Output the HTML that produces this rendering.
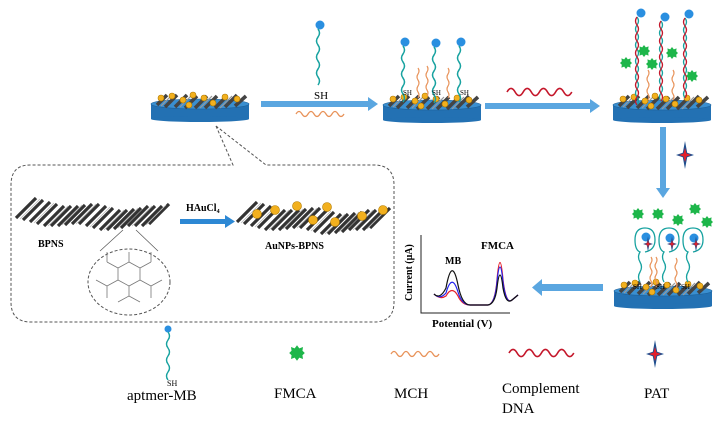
<!DOCTYPE html>
<html><head><meta charset="utf-8"><style>
html,body{margin:0;padding:0;background:#fff;}
svg{display:block;font-family:"Liberation Serif",serif;}
</style></head><body>
<svg width="715" height="426" viewBox="0 0 715 426" xmlns="http://www.w3.org/2000/svg">
<defs>
<g id="surf">
  <g stroke="#444" stroke-width="3.6">
    <line x1="4" y1="6" x2="14" y2="-4"/><line x1="12" y1="8" x2="24" y2="-4"/><line x1="22" y1="8" x2="34" y2="-4"/>
    <line x1="32" y1="9" x2="44" y2="-3"/><line x1="42" y1="9" x2="54" y2="-3"/><line x1="52" y1="9" x2="64" y2="-3"/>
    <line x1="62" y1="9" x2="74" y2="-3"/><line x1="72" y1="8" x2="84" y2="-4"/><line x1="82" y1="7" x2="93" y2="-3"/>
  </g>
  <g stroke="#999" stroke-width="1.2">
    <line x1="8" y1="7" x2="18" y2="-3"/><line x1="27" y1="8" x2="39" y2="-4"/><line x1="47" y1="9" x2="59" y2="-3"/><line x1="67" y1="9" x2="79" y2="-3"/>
  </g>
  <g fill="#f2b01e" stroke="#b07a00" stroke-width="0.6">
    <circle cx="8" cy="-1" r="3"/><circle cx="19" cy="-3" r="3"/><circle cx="30" cy="1" r="3"/><circle cx="40" cy="-4" r="3"/>
    <circle cx="51" cy="-1" r="3"/><circle cx="60" cy="4" r="3"/><circle cx="72" cy="-2" r="3"/><circle cx="84" cy="0" r="3"/><circle cx="36" cy="6" r="3"/>
  </g>
</g>
<g id="elec">
  <rect x="0" y="0" width="98" height="15" fill="#2371b3"/>
  <ellipse cx="49" cy="15" rx="49" ry="3" fill="#2371b3"/>
  <ellipse cx="49" cy="0" rx="49" ry="5" fill="#3a8fd0" stroke="#1c5f97" stroke-width="0.6"/>
  <use href="#surf" x="2" y="-5"/>
</g>
<path id="apt" d="M0 0 q3 4 0 8 q-3 4 0 8 q3 4 0 8 q-3 4 0 8 q3 4 0 8 q-3 4 0 8 q3 4 0 8" fill="none" stroke="#17a2a0" stroke-width="1.5"/>
<path id="mch" d="M0 0 q2 3 0 6 q-2 3 0 6 q2 3 0 6 q-2 3 0 6 q2 3 0 6" fill="none" stroke="#e8935a" stroke-width="1.2"/>
<path id="mchh" d="M0 0 q3 -5 6 0 q3 5 6 0 q3 -5 6 0 q3 5 6 0 q3 -5 6 0 q3 5 6 0 q3 -5 6 0 q3 5 6 0" fill="none" stroke="#e8935a" stroke-width="1.3"/>
<path id="cdna" d="M0 0 q4.5 -8 9 0 q4.5 8 9 0 q4.5 -8 9 0 q4.5 8 9 0 q4.5 -8 9 0 q4.5 8 9 0 q4.5 -8 9 0 q4.5 8 9 0" fill="none" stroke="#c4162a" stroke-width="1.8"/>
<path id="gear" d="M0 -6 L1.8 -3.6 L4.6 -4.6 L4.2 -1.7 L6 0 L4.2 1.7 L4.6 4.6 L1.8 3.6 L0 6 L-1.8 3.6 L-4.6 4.6 L-4.2 1.7 L-6 0 L-4.2 -1.7 L-4.6 -4.6 L-1.8 -3.6 Z" fill="#1db64a"/>
<g id="star"><path d="M0 -14 L2.2 -2.2 L9 0 L2.2 2.2 L0 14 L-2.2 2.2 L-9 0 L-2.2 -2.2 Z" fill="#1f4f8f"/><path d="M0 -7 L1.5 -1.5 L6 0 L1.5 1.5 L0 7 L-1.5 1.5 L-6 0 L-1.5 -1.5 Z" fill="#e5202a"/></g>
<g id="sheet">
  <g stroke="#333" stroke-width="3.2">
    <line x1="0" y1="22" x2="20" y2="2"/><line x1="7" y1="24" x2="27" y2="4"/><line x1="14" y1="26" x2="34" y2="6"/><line x1="21" y1="28" x2="41" y2="8"/>
    <line x1="28" y1="30" x2="48" y2="10"/><line x1="35" y1="30" x2="55" y2="10"/><line x1="42" y1="30" x2="62" y2="10"/><line x1="49" y1="29" x2="69" y2="9"/>
    <line x1="56" y1="28" x2="76" y2="8"/><line x1="63" y1="28" x2="83" y2="8"/><line x1="70" y1="30" x2="90" y2="10"/><line x1="77" y1="32" x2="97" y2="12"/>
    <line x1="84" y1="34" x2="104" y2="14"/><line x1="91" y1="34" x2="111" y2="14"/><line x1="98" y1="33" x2="118" y2="13"/><line x1="105" y1="32" x2="125" y2="12"/>
    <line x1="112" y1="30" x2="132" y2="10"/><line x1="119" y1="30" x2="139" y2="10"/><line x1="126" y1="30" x2="146" y2="10"/><line x1="133" y1="28" x2="153" y2="8"/>
  </g>
  <g stroke="#bbb" stroke-width="0.8">
    <line x1="4" y1="23" x2="24" y2="3"/><line x1="18" y1="27" x2="38" y2="7"/><line x1="32" y1="30" x2="52" y2="10"/><line x1="46" y1="29" x2="66" y2="9"/>
    <line x1="60" y1="28" x2="80" y2="8"/><line x1="74" y1="31" x2="94" y2="11"/><line x1="88" y1="34" x2="108" y2="14"/><line x1="102" y1="32" x2="122" y2="12"/>
    <line x1="116" y1="30" x2="136" y2="10"/><line x1="130" y1="29" x2="150" y2="9"/>
  </g>
</g>
</defs>

<g fill="#5aa6e0">
  <rect x="261" y="101" width="108" height="6"/><path d="M368 97 L378 104 L368 111 Z"/>
  <rect x="485" y="103" width="106" height="6"/><path d="M590 99 L600 106 L590 113 Z"/>
  <rect x="660" y="127" width="6" height="62"/><path d="M656 188 L663 198 L670 188 Z"/>
  <rect x="541" y="284" width="62" height="7"/><path d="M542 279 L532 287.5 L542 296 Z"/>
</g>

<use href="#elec" x="151" y="104"/>
<path d="M216 126 L233 165 L30 165 Q11 165 11 185 L11 302 Q11 322 31 322 L374 322 Q394 322 394 302 L394 185 Q394 165 374 165 L266 165 Z" fill="none" stroke="#555" stroke-width="1" stroke-dasharray="3,2"/>

<circle cx="320" cy="25" r="4.5" fill="#2a8fe0"/>
<use href="#apt" x="318" y="29"/>
<text x="314" y="99" font-size="11">SH</text>
<use href="#mchh" x="296" y="114"/>

<use href="#elec" x="383" y="105"/>
<g>
  <circle cx="405" cy="42" r="4.5" fill="#2a8fe0"/><use href="#apt" x="403" y="46"/>
  <circle cx="436" cy="43" r="4.5" fill="#2a8fe0"/><use href="#apt" x="434" y="47"/>
  <circle cx="461" cy="42" r="4.5" fill="#2a8fe0"/><use href="#apt" x="459" y="46"/>
  <use href="#mch" x="418" y="68"/><use href="#mch" x="427" y="66"/><use href="#mch" x="448" y="68"/>
  <text x="403" y="95" font-size="7">SH</text><text x="432" y="95" font-size="7">SH</text><text x="460" y="95" font-size="7">SH</text>
</g>
<use href="#cdna" x="507" y="92" transform="translate(507,92) scale(0.9) translate(-507,-92)"/>

<use href="#elec" x="613" y="105"/>
<g>
  <circle cx="641" cy="13" r="4.5" fill="#2a8fe0"/><circle cx="665" cy="17" r="4.5" fill="#2a8fe0"/><circle cx="689" cy="14" r="4.5" fill="#2a8fe0"/>
  <path d="M637 17 q3 4 0 8 q-3 4 0 8 q3 4 0 8 q-3 4 0 8 q3 4 0 8 q-3 4 0 8 q3 4 0 8 q-3 4 0 8 q3 4 0 8 q-3 4 0 8 q3 4 0 8" fill="none" stroke="#17a2a0" stroke-width="1.3"/>
  <path d="M637 17 q-3 4 0 8 q3 4 0 8 q-3 4 0 8 q3 4 0 8 q-3 4 0 8 q3 4 0 8 q-3 4 0 8 q3 4 0 8 q-3 4 0 8 q3 4 0 8 q-3 4 0 8" fill="none" stroke="#c4162a" stroke-width="1.3"/>
  <path d="M661 21 q3 4 0 8 q-3 4 0 8 q3 4 0 8 q-3 4 0 8 q3 4 0 8 q-3 4 0 8 q3 4 0 8 q-3 4 0 8 q3 4 0 8 q-3 4 0 8" fill="none" stroke="#17a2a0" stroke-width="1.3"/>
  <path d="M661 21 q-3 4 0 8 q3 4 0 8 q-3 4 0 8 q3 4 0 8 q-3 4 0 8 q3 4 0 8 q-3 4 0 8 q3 4 0 8 q-3 4 0 8 q3 4 0 8" fill="none" stroke="#c4162a" stroke-width="1.3"/>
  <path d="M685 18 q3 4 0 8 q-3 4 0 8 q3 4 0 8 q-3 4 0 8 q3 4 0 8 q-3 4 0 8 q3 4 0 8 q-3 4 0 8 q3 4 0 8 q-3 4 0 8" fill="none" stroke="#17a2a0" stroke-width="1.3"/>
  <path d="M685 18 q-3 4 0 8 q3 4 0 8 q-3 4 0 8 q3 4 0 8 q-3 4 0 8 q3 4 0 8 q-3 4 0 8 q3 4 0 8 q-3 4 0 8 q3 4 0 8" fill="none" stroke="#c4162a" stroke-width="1.3"/>
  <use href="#mch" x="648" y="70"/><use href="#mch" x="673" y="70"/>
  <use href="#gear" x="626" y="63"/><use href="#gear" x="644" y="51"/><use href="#gear" x="652" y="64"/><use href="#gear" x="672" y="53"/><use href="#gear" x="692" y="76"/>
</g>
<use href="#star" x="685" y="155"/>

<use href="#elec" x="614" y="291"/>
<g>
  <use href="#gear" x="638" y="214"/><use href="#gear" x="658" y="214"/><use href="#gear" x="678" y="220"/><use href="#gear" x="695" y="209"/><use href="#gear" x="707" y="222"/>
  <g fill="none" stroke="#17a2a0" stroke-width="1.3">
    <path d="M640 282 q-3 -5 0 -10 q3 -5 0 -10 q-3 -5 0 -10 q-5 -2 -5 -12 q0 -12 10 -12 q10 0 10 12 q0 10 -10 12"/>
    <path d="M664 282 q-3 -5 0 -10 q3 -5 0 -10 q-3 -5 0 -10 q-5 -2 -5 -12 q0 -12 10 -12 q10 0 10 12 q0 10 -10 12"/>
    <path d="M688 282 q-3 -5 0 -10 q3 -5 0 -10 q-3 -5 0 -10 q-5 -2 -5 -12 q0 -12 10 -12 q10 0 10 12 q0 10 -10 12"/>
  </g>
  <circle cx="646" cy="237" r="4.5" fill="#2a8fe0"/><circle cx="670" cy="238" r="4.5" fill="#2a8fe0"/><circle cx="694" cy="238" r="4.5" fill="#2a8fe0"/>
  <use href="#star" x="648" y="244" transform="translate(648,244) scale(0.55) translate(-648,-244)"/>
  <use href="#star" x="672" y="244" transform="translate(672,244) scale(0.55) translate(-672,-244)"/>
  <use href="#star" x="696" y="244" transform="translate(696,244) scale(0.55) translate(-696,-244)"/>
  <use href="#mch" x="651" y="257"/><use href="#mch" x="656" y="257"/><use href="#mch" x="676" y="258"/>
  <text x="633" y="289" font-size="7">SH</text><text x="656" y="289" font-size="7">SH</text><text x="681" y="289" font-size="7">SH</text>
</g>

<use href="#sheet" x="16" y="196"/>
<use href="#sheet" x="237" y="200"/>
<g fill="#f2b01e" stroke="#b07a00" stroke-width="0.6">
  <circle cx="257" cy="214" r="4.5"/><circle cx="275" cy="210" r="4.5"/><circle cx="297" cy="206" r="4.5"/><circle cx="313" cy="220" r="4.5"/>
  <circle cx="327" cy="207" r="4.5"/><circle cx="335" cy="222" r="4.5"/><circle cx="362" cy="216" r="4.5"/><circle cx="383" cy="210" r="4.5"/>
</g>
<text x="38" y="247" font-size="10" font-weight="bold">BPNS</text>
<text x="265" y="249" font-size="10" font-weight="bold">AuNPs-BPNS</text>
<rect x="180" y="219" width="46" height="5" fill="#2d88d4"/><path d="M225 215 L235 221.5 L225 228 Z" fill="#2d88d4"/>
<text x="186" y="211" font-size="10" font-weight="bold">HAuCl<tspan font-size="6" dy="2">4</tspan></text>
<line x1="123" y1="230" x2="100" y2="251" stroke="#555" stroke-width="0.7"/>
<line x1="136" y1="230" x2="158" y2="251" stroke="#555" stroke-width="0.7"/>
<ellipse cx="129" cy="282" rx="41" ry="33" fill="none" stroke="#555" stroke-width="1" stroke-dasharray="3,2"/>
<g fill="none" stroke="#777" stroke-width="0.8">
  <path d="M118 268 L129 262 L140 268 L140 280 L129 286 L118 280 Z"/>
  <path d="M107 262 L118 268 M129 262 L129 252 M151 262 L140 268 M140 280 L151 286 L151 298 M118 280 L107 286 L107 298 M129 286 L129 296 L118 302 M129 296 L140 302 M107 262 L107 252 M151 262 L151 252 M107 286 L96 280 M151 286 L162 280"/>
</g>

<path d="M421 235 L421 313 L510 313" fill="none" stroke="#222" stroke-width="1"/>
<text transform="translate(412,301) rotate(-90)" font-size="10" font-weight="bold">Current (μA)</text>
<text x="432" y="327" font-size="11" font-weight="bold">Potential (V)</text>
<text x="445" y="264" font-size="10" font-weight="bold">MB</text>
<text x="481" y="249" font-size="11" font-weight="bold">FMCA</text>
<g fill="none" stroke-width="1.2">
  <path d="M434 294 Q440 300 446 296 Q452 285 458 296 Q462 305 470 305 L488 305 Q495 304 497 280 Q500 245 503 280 Q506 305 512 300 L518 295" stroke="#e5202a"/>
  <path d="M434 294 Q440 300 446 293 Q452 272 458 292 Q462 305 470 305 L488 305 Q495 304 497 282 Q500 252 503 282 Q506 305 512 300 L518 295" stroke="#2222ee"/>
  <path d="M434 294 Q440 300 446 288 Q452 255 458 285 Q462 305 470 305 L488 305 Q495 304 497 288 Q500 262 503 288 Q506 305 512 300 L518 295" stroke="#111"/>
</g>

<circle cx="168" cy="329" r="3.5" fill="#2a8fe0"/>
<path d="M168 332 q3 4 0 8 q-3 4 0 8 q3 4 0 8 q-3 4 0 8 q3 4 0 8 q-3 4 0 8" fill="none" stroke="#17a2a0" stroke-width="1.4"/>
<text x="167" y="386" font-size="8">SH</text>
<text x="127" y="400" font-size="15">aptmer-MB</text>
<use href="#gear" x="297" y="353" transform="translate(297,353) scale(1.3) translate(-297,-353)"/>
<text x="274" y="398" font-size="15">FMCA</text>
<use href="#mchh" x="391" y="354"/>
<text x="394" y="398" font-size="15">MCH</text>
<use href="#cdna" x="509" y="353" transform="translate(509,353) scale(0.9) translate(-509,-353)"/>
<text x="502" y="393" font-size="15">Complement</text>
<text x="502" y="413" font-size="15">DNA</text>
<use href="#star" x="655" y="354"/>
<text x="644" y="398" font-size="15">PAT</text>
</svg>
</body></html>
